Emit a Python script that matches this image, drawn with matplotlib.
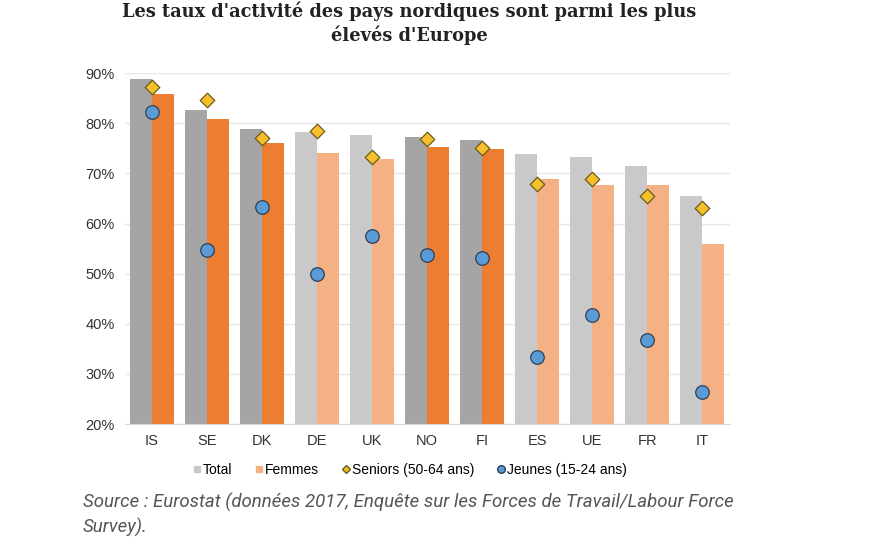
import matplotlib.pyplot as plt
import numpy as np
from matplotlib.lines import Line2D
from matplotlib.ticker import PercentFormatter

# Taux d'activité 2017 (%), Eurostat
pays = ["IS", "SE", "DK", "DE", "UK", "NO", "FI", "ES", "UE", "FR", "IT"]
nordique = [True, True, True, False, False, True, True, False, False, False, False]
total = [88.8, 82.6, 78.8, 78.2, 77.6, 77.2, 76.6, 73.8, 73.2, 71.4, 65.4]
femmes = [85.8, 80.8, 76.0, 74.0, 72.8, 75.2, 74.8, 68.8, 67.6, 67.6, 56.0]
seniors = [87.2, 84.6, 77.0, 78.4, 73.2, 76.8, 75.0, 67.8, 68.8, 65.4, 63.0]
jeunes = [82.2, 54.7, 63.3, 50.0, 57.6, 53.7, 53.1, 33.3, 41.7, 36.7, 26.3]

gris_fonce, gris_clair = "#a5a5a5", "#c9c9c9"
orange_fonce, orange_clair = "#ed7d31", "#f4b183"

fig = plt.figure(figsize=(8.8, 5.5), dpi=100)
ax = fig.add_axes([0.1415, 0.229, 0.688, 0.638])

x = np.arange(len(pays))
w = 0.4
col_total = [gris_fonce if n else gris_clair for n in nordique]
col_femmes = [orange_fonce if n else orange_clair for n in nordique]
ax.bar(x - w / 2, total, width=w, color=col_total, zorder=2)
ax.bar(x + w / 2, femmes, width=w, color=col_femmes, zorder=2)
ax.scatter(x, seniors, marker="D", s=55, color="#f5c02c", edgecolor="#6b5a1e", linewidth=0.9, zorder=4)
ax.scatter(x, jeunes, marker="o", s=95, color="#5b9bd5", edgecolor="#2f3f55", linewidth=0.9, zorder=4)

ax.set_ylim(20, 90)
ax.set_xlim(-0.5, 10.5)
ax.set_yticks(range(20, 91, 10))
ax.yaxis.set_major_formatter(PercentFormatter(decimals=0))
ax.set_xticks(x)
ax.set_xticklabels(pays)
ax.grid(axis="y", color="#e6e6e6", linewidth=1, zorder=0)
for s in ["top", "right", "left"]:
    ax.spines[s].set_visible(False)
ax.spines["bottom"].set_color("#d9d9d9")
ax.tick_params(length=0, labelsize=10.5, colors="#333333", pad=7)
for lab in ax.get_xticklabels() + ax.get_yticklabels():
    lab.set_fontfamily("Liberation Sans")

fig.text(0.465, 0.997, "Les taux d'activité des pays nordiques sont parmi les plus\nélevés d'Europe",
         ha="center", va="top", fontsize=12.8, fontweight="bold", family="DejaVu Serif",
         color="#222222", linespacing=1.3)

handles = [
    Line2D([], [], marker="s", ls="", color=gris_clair, markersize=5),
    Line2D([], [], marker="s", ls="", color=orange_clair, markersize=5),
    Line2D([], [], marker="D", ls="", color="#f5c02c", markeredgecolor="#6b5a1e", markersize=4.5),
    Line2D([], [], marker="o", ls="", color="#5b9bd5", markeredgecolor="#2f3f55", markersize=5.5),
]
fig.legend(handles, ["Total", "Femmes", "Seniors (50-64 ans)", "Jeunes (15-24 ans)"],
           loc="center", bbox_to_anchor=(0.465, 0.145), ncol=4, frameon=False,
           handletextpad=0.05, columnspacing=1.5, handlelength=0.8,
           prop={"family": "Liberation Sans", "size": 10})

fig.text(0.094, 0.064, "Source : Eurostat (données 2017, Enquête sur les Forces de Travail/Labour Force\nSurvey).",
         ha="left", va="center", fontsize=13.4, style="italic", family="Roboto",
         color="#555555", linespacing=1.35)

fig.savefig("out.png", dpi=100)
